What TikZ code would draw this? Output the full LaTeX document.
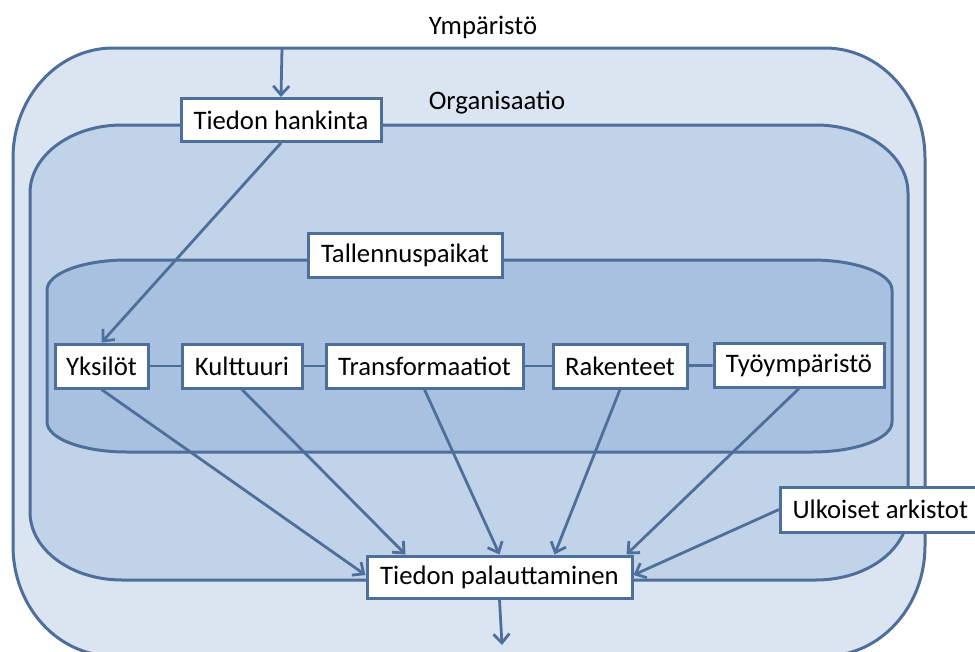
\documentclass[tikz,border=0pt]{standalone}
\usepackage{fontspec}
\setmainfont{Carlito}
\usetikzlibrary{arrows.meta,calc}
\definecolor{edge}{HTML}{4F6F9B}
\definecolor{envfill}{HTML}{DBE5F1}
\definecolor{orgfill}{HTML}{C1D3E9}
\definecolor{storefill}{HTML}{A9C1E0}

% rounded rectangle with elliptic corners: x1,y1,x2,y2,rx,ry
\newcommand{\ellrect}[6]{%
  (#1,#2+#6) arc[start angle=180,end angle=270,x radius=#5,y radius=#6]
  -- (#3-#5,#2) arc[start angle=270,end angle=360,x radius=#5,y radius=#6]
  -- (#3,#4-#6) arc[start angle=0,end angle=90,x radius=#5,y radius=#6]
  -- (#1+#5,#4) arc[start angle=90,end angle=180,x radius=#5,y radius=#6]
  -- cycle}

\begin{document}
\begin{tikzpicture}[x=1pt,y=-1pt,
  font=\fontsize{26.7}{31}\selectfont,
  outline/.style={draw=edge,line width=3pt},
  item/.style={draw=edge,line width=3pt,fill=white,inner sep=0pt,
    minimum height=43pt,anchor=center},
  link/.style={draw=edge,line width=2.8pt},
  flow/.style={link,-{Straight Barb[length=9pt,width=16pt]}},
]
\useasboundingbox (0,0) rectangle (975,651);
\clip (0,0) rectangle (975,651);

% nested areas
\path[outline,fill=envfill] \ellrect{13}{48}{925}{656}{100}{110};
\path[outline,fill=orgfill] \ellrect{30}{125}{908}{580}{92}{68};
\path[outline,fill=storefill] \ellrect{47}{260}{892}{452}{80}{30};

% area labels
\node (envlabel) at (483,27) {Ympäristö};
\node (orglabel) at (497,103) {Organisaatio};

% boxes
\node[item,minimum width=200pt] (hank) at (281,120) {Tiedon hankinta};
\node[item,minimum width=194pt,minimum height=44pt] (store) at (405,255) {Tallennuspaikat};
\node[item,minimum width=93pt,minimum height=44pt] (yks) at (101.5,366) {Yksilöt};
\node[item,minimum width=120pt,minimum height=44pt] (kult) at (242,366) {Kulttuuri};
\node[item,minimum width=197pt,minimum height=44pt] (trans) at (424.5,366) {Transformaatiot};
\node[item,minimum width=134pt,minimum height=44pt] (rak) at (620,366) {Rakenteet};
\node[item,minimum width=170pt,minimum height=44pt] (tyo) at (799,365) {Työympäristö};
\node[item,anchor=west,inner xsep=12pt,minimum height=45pt] (ulk) at (779,509.5) {Ulkoiset arkistot};
\node[item,minimum width=265pt,minimum height=42pt] (palaut) at (499.5,577) {Tiedon palauttaminen};

% free ends
\coordinate (envin) at (282,48);
\coordinate (out) at (502,645);

% row links
\draw[link] (yks) -- (kult);
\draw[link] (kult) -- (trans);
\draw[link] (trans) -- (rak);
\draw[link] (rak) -- (tyo);

% flows
\draw[flow] (envin) -- (hank.north);
\draw[flow] (hank.south) -- (yks.north);
\draw[flow] (yks.south) -- ($(palaut.west)+(0,-2)$);
\draw[flow] (kult.south) -- ($(palaut.north west)+(40,0)$);
\draw[flow] (trans.south) -- (palaut.north);
\draw[flow] (rak.south) -- ($(palaut.north)+(55,0)$);
\draw[flow] (tyo.south) -- ($(palaut.north east)+(-7,0)$);
\draw[flow] (ulk.west) -- ($(palaut.east)+(0,-2)$);
\draw[flow] (palaut.south) -- (out);
\end{tikzpicture}
\end{document}
